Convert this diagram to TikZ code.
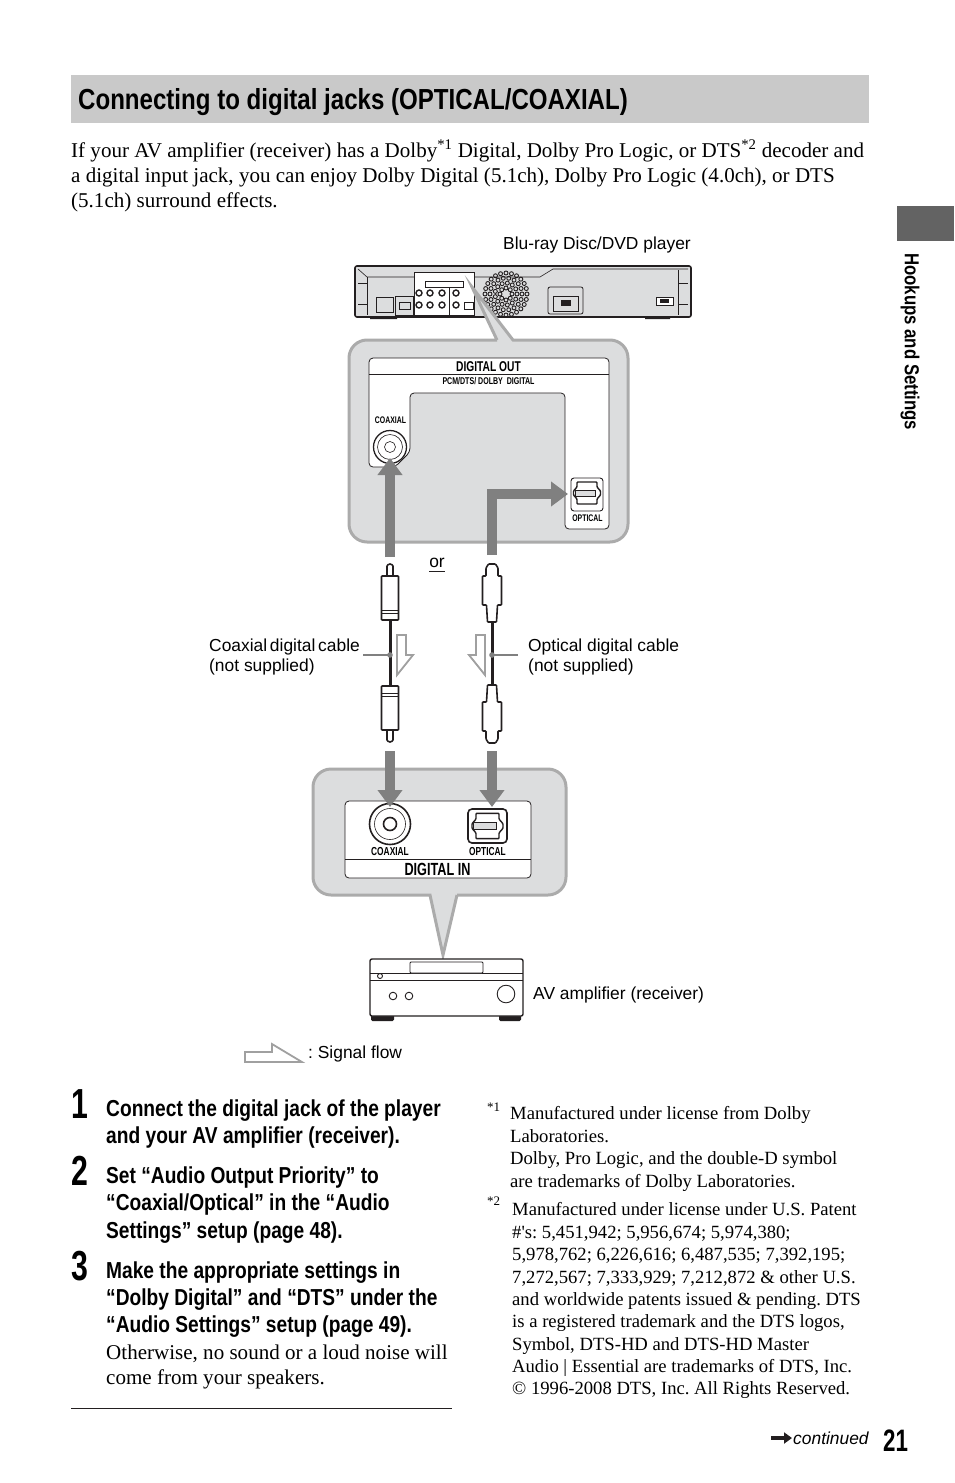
\documentclass[tikz,border=0pt]{standalone}
\usepackage{fontspec}
\setmainfont{Liberation Serif}
\setsansfont{Liberation Sans}
\newfontfamily\notefont{Liberation Serif}
\newfontfamily\condfont[FakeStretch=0.83]{Liberation Sans}
\newfontfamily\numfont[FakeStretch=0.72]{Liberation Sans}
\usetikzlibrary{arrows.meta, positioning, calc}
\definecolor{bandgray}{HTML}{C9C9C9}
\definecolor{tabgray}{HTML}{636363}
\definecolor{calloutfill}{HTML}{DCDDDE}
\definecolor{calloutedge}{HTML}{ABABAB}
\definecolor{flowgray}{HTML}{808080}
\definecolor{inkblack}{HTML}{231F20}
\tikzset{
    bodytext/.style={anchor=base west, inner sep=0pt, font=\fontsize{21.05}{25}\selectfont},
    notetext/.style={anchor=base west, inner sep=0pt, font=\notefont\fontsize{18.65}{22}\selectfont},
    labeltext/.style={anchor=base west, inner sep=0pt, font=\sffamily\fontsize{17.4}{20}\selectfont},
    steptext/.style={anchor=base west, inner sep=0pt, font=\condfont\bfseries\fontsize{23.1}{27}\selectfont},
    stepnum/.style={anchor=base west, inner sep=0pt, font=\numfont\bfseries\fontsize{42}{42}\selectfont},
    jacktext/.style={inner sep=0pt, font=\numfont\bfseries\fontsize{11.6}{12}\selectfont},
    callout/.style={draw=calloutedge, fill=calloutfill, line width=3pt},
    panel/.style={draw=inkblack, fill=white, line width=0.8pt, rounded corners=4pt},
    flow/.style={draw=flowgray, line width=10pt, -{Triangle[length=17pt, width=24pt]}},
    hollowflow/.style={draw=flowgray!75, fill=white, line width=1.8pt, miter limit=10},
    leader/.style={draw=flowgray, line width=1.2pt},
    part/.style={draw=inkblack, line width=1pt},
    plugline/.style={draw=inkblack, line width=1.6pt, fill=white, rounded corners=0.8pt},
    coaxplug/.pic={
        \draw[plugline] (-3,-44) -- (-3,-53) arc (180:360:3) -- (3,-44);
        \draw[plugline] (-8.5,0) rectangle (8.5,-44);
        \draw[part, line width=0.7pt] (-8,-7) -- (8,-7) (-8,-10) -- (8,-10);
    },
    optoplug/.pic={
        \draw[plugline] (-4.5,0) -- (-5.5,-17) -- (-9.5,-17) -- (-9.5,-46) -- (-6,-46) -- (-6,-54) -- (-3.5,-58) -- (3.5,-58) -- (6,-54) -- (6,-46) -- (9.5,-46) -- (9.5,-17) -- (5.5,-17) -- (4.5,0) -- cycle;
    },
    optojack/.pic={
        \draw[plugline, line width=1.4pt] (-10,-11) -- (10,-11) -- (10,-6) -- (13.5,-2) -- (13.5,2) -- (10,6) -- (10,11) -- (-10,11) -- (-10,6) -- (-13.5,2) -- (-13.5,-2) -- (-10,-6) -- cycle;
        \draw[part, fill=calloutfill, line width=1pt] (-12,-3) rectangle (8,3);
    }
}

\begin{document}
\frenchspacing
\begin{tikzpicture}[x=1pt, y=-1pt]
    \useasboundingbox (0,0) rectangle (954,1483);

    % Heading band and side tab
    \fill[bandgray] (71,75) rectangle (869,123);
    \node (Heading) [anchor=base west, inner sep=0pt, font=\condfont\bfseries\fontsize{29}{32}\selectfont] at (78,109) {Connecting to digital jacks (OPTICAL/COAXIAL)};
    \fill[tabgray] (897,206) rectangle (954,241);
    \node (Chapter) [anchor=west, inner sep=0pt, rotate=-90, font=\condfont\bfseries\fontsize{20.2}{21}\selectfont] at (910,253) {Hookups and Settings};

    % Intro text
    \node (IntroA) [bodytext] at (71,157) {If your AV amplifier (receiver) has a Dolby\textsuperscript{*1} Digital, Dolby Pro Logic, or DTS\textsuperscript{*2} decoder and};
    \node (IntroB) [bodytext] at (71,182) {a digital input jack, you can enjoy Dolby Digital (5.1ch), Dolby Pro Logic (4.0ch), or DTS};
    \node (IntroC) [bodytext] at (71,207) {(5.1ch) surround effects.};

    % Player
    \node (PlayerLabel) [labeltext] at (503,249) {Blu-ray Disc/DVD player};
    \fill[inkblack] (370,316) rectangle (397,319) (645,316) rectangle (670,319);
    \draw[part, fill=calloutfill, line width=1.6pt, rounded corners=2pt] (355,266) rectangle (691,317);
    \draw[part, line width=0.6pt] (358,269) -- (367,277) -- (540,277) -- (553,269) -- (678,269) -- (688,269);
    \draw[part, line width=0.6pt] (367,277) -- (367,315) (678,270) -- (678,315);
    \draw[part, line width=0.6pt] (358,283) -- (367,283) (358,304) -- (367,304) (678,283) -- (688,283) (678,304) -- (688,304);
    \draw[part, fill=white, line width=0.6pt] (414,272) rectangle (474,315);
    \draw[part, line width=0.6pt] (425,281) rectangle (463,287) (449,287) -- (449,315);
    \draw[part, line width=0.8pt] (376,297) rectangle (393,312) (395,296) rectangle (413,315) (399,302) rectangle (410,309);
    \foreach \px in {419,430,442,456} {
        \draw[inkblack, line width=1.4pt] (\px,293) circle (3);
        \draw[inkblack, line width=1.4pt] (\px,305) circle (3);
    }
    \draw[part, line width=0.8pt] (464,302) rectangle (473,309);
    \foreach \fanr/\fann in {6/8, 11/13, 16/18, 21/24} {
        \foreach \fani in {1,...,\fann} {
            \draw[inkblack, line width=0.9pt] ($(506,294)+({\fani*360/\fann}:\fanr)$) circle (2);
        }
    }
    \draw[part, line width=0.8pt, rounded corners=2pt] (548,287) rectangle (583,314);
    \draw[part, line width=1pt] (553,296) rectangle (578,311);
    \fill[inkblack] (561,300) rectangle (571,306);
    \draw[part, fill=white, line width=0.8pt] (656,297) rectangle (673,305);
    \fill[inkblack] (660,299) rectangle (669,303);

    % Upper callout
    \draw[callout] (497,340) [sharp corners] -- (472,287) -- (513,340) [rounded corners=18pt] -- (628,340) -- (628,542) -- (349,542) -- (349,340) -- (497,340);
    \draw[panel] (369,467) -- (369,358) -- (609,358) -- (609,529) -- (565,529) -- (565,393) -- (410,393) -- (410,452) -- (395,467) -- cycle;
    \draw[part, line width=0.8pt] (369,374.5) -- (609,374.5);
    \node (DigitalOut) [jacktext, font=\numfont\bfseries\fontsize{14.2}{15}\selectfont] at (488.5,366.5) {DIGITAL OUT};
    \node (PcmLabel) [jacktext, font=\numfont\bfseries\fontsize{9.8}{10}\selectfont] at (488.5,381.5) {PCM/DTS/ DOLBY\ \ DIGITAL};
    \node (CoaxOutLabel) [jacktext, font=\numfont\bfseries\fontsize{9.6}{10}\selectfont] at (390.5,420) {COAXIAL};
    \draw[part, fill=white, line width=1.3pt] (390,447) circle (16.5);
    \draw[part, line width=0.6pt] (390,447) circle (12.5);
    \draw[part, line width=0.6pt] (390,447) circle (5.5);
    \draw[part, rounded corners=3pt, fill=white, line width=0.9pt] (571,478) rectangle (603,511);
    \pic at (587,493) {optojack};
    \node (OptoOutLabel) [jacktext, font=\numfont\bfseries\fontsize{9.6}{10}\selectfont] at (587.5,518) {OPTICAL};

    % Lower callout
    \draw[callout] (457,895) [sharp corners] -- (443,955) -- (430,895) [rounded corners=18pt] -- (313,895) -- (313,769) -- (566,769) -- (566,895) -- (457,895);
    \draw[panel] (345,801) rectangle (531,878);
    \draw[part, line width=0.8pt] (345,859) -- (531,859);
    \draw[part, fill=white, line width=1.6pt] (390,824) circle (20.5);
    \draw[part, line width=0.6pt] (390,824) circle (15.5);
    \draw[part, line width=1.6pt] (390,824) circle (6.5);
    \draw[part, rounded corners=4pt, fill=white, line width=1.6pt] (468,809) rectangle (507,843);
    \pic [scale=1.15] at (487.5,826) {optojack};
    \node (CoaxInLabel) [jacktext] at (390,851.5) {COAXIAL};
    \node (OptoInLabel) [jacktext] at (487.5,851.5) {OPTICAL};
    \node (DigitalIn) [jacktext, font=\numfont\bfseries\fontsize{17.6}{18}\selectfont] at (437.5,869.5) {DIGITAL IN};

    % Signal paths
    \coordinate (CoaxOutStart) at (390,557);
    \coordinate (CoaxOutEnd) at (390,458);
    \coordinate (OptoOutStart) at (492,555);
    \coordinate (OptoOutBend) at (492,494);
    \coordinate (OptoOutEnd) at (568,494);
    \coordinate (CoaxInStart) at (390,751);
    \coordinate (CoaxInEnd) at (390,807);
    \coordinate (OptoInStart) at (492,751);
    \coordinate (OptoInEnd) at (492,807);
    \draw[flow] (CoaxOutStart) -- (CoaxOutEnd);
    \draw[flow] (OptoOutStart) -- (OptoOutBend) -- (OptoOutEnd);
    \draw[flow] (CoaxInStart) -- (CoaxInEnd);
    \draw[flow] (OptoInStart) -- (OptoInEnd);

    % Cables
    \coordinate (CoaxTop) at (390,620);
    \coordinate (CoaxBottom) at (390,686);
    \coordinate (OptoTop) at (492,622);
    \coordinate (OptoBottom) at (492,685);
    \draw[inkblack, line width=3pt] (CoaxTop) -- (CoaxBottom);
    \draw[inkblack, line width=3pt] (OptoTop) -- (OptoBottom);
    \pic at (CoaxTop) {coaxplug};
    \pic [yscale=-1] at (CoaxBottom) {coaxplug};
    \pic at (OptoTop) {optoplug};
    \pic [yscale=-1] at (OptoBottom) {optoplug};
    \draw[hollowflow] (397,635) -- (406,635) -- (406,655) -- (413,655) -- (397,675) -- cycle;
    \draw[hollowflow] (485,635) -- (476,635) -- (476,655) -- (469,655) -- (485,675) -- cycle;

    % Cable labels
    \node (OrLabel) [labeltext, anchor=base] at (437,567) {or};
    \draw[inkblack, line width=0.8pt] (429,571) -- (445,571);
    \node (CoaxLabel) [labeltext] at (209,651) {Coaxial\kern2.8pt digital\kern2.8pt cable};
    \node (CoaxNote) [labeltext] at (209,671) {(not supplied)};
    \node (OptoLabel) [labeltext] at (528,651) {Optical digital cable};
    \node (OptoNote) [labeltext] at (528,671) {(not supplied)};
    \coordinate (CoaxLeaderEnd) at (363,655);
    \coordinate (OptoLeaderEnd) at (518,655);
    \coordinate (CoaxDot) at (390,655);
    \coordinate (OptoDot) at (492,655);
    \draw[leader] (CoaxLeaderEnd) -- (CoaxDot);
    \draw[leader] (OptoLeaderEnd) -- (OptoDot);
    \fill[flowgray] (CoaxDot) circle (2.8) (OptoDot) circle (2.8);

    % Amplifier
    \fill[inkblack, rounded corners=1.5pt] (371,1014) rectangle (394,1021) (499,1014) rectangle (521,1021);
    \draw[part, fill=white, line width=1.4pt, rounded corners=2pt] (370,959) rectangle (523,1016);
    \draw[part, line width=0.8pt] (370,973) -- (523,973) (370,980) -- (523,980);
    \draw[part, fill=white, rounded corners=1pt, line width=0.9pt] (410,962) rectangle (483,973);
    \draw[part, line width=0.9pt] (380,976) circle (2.5) (393,996) circle (3.8) (409,996) circle (3.8) (506,994) circle (8.8);
    \node (AmpLabel) [labeltext] at (533,999) {AV amplifier (receiver)};

    % Legend
    \draw[hollowflow] (245,1052) -- (272,1052) -- (272,1044) -- (302,1062) -- (245,1062) -- cycle;
    \node (LegendLabel) [labeltext] at (308,1058) {: Signal flow};

    % Steps
    \node (NumOne) [stepnum] at (71,1118) {1};
    \node (StepOneA) [steptext] at (106,1116) {Connect the digital jack of the player};
    \node (StepOneB) [steptext] at (106,1143) {and your AV amplifier (receiver).};
    \node (NumTwo) [stepnum] at (71,1185) {2};
    \node (StepTwoA) [steptext] at (106,1183) {Set “Audio Output Priority” to};
    \node (StepTwoB) [steptext] at (106,1210) {“Coaxial/Optical” in the “Audio};
    \node (StepTwoC) [steptext] at (106,1238) {Settings” setup (page 48).};
    \node (NumThree) [stepnum] at (71,1280) {3};
    \node (StepThreeA) [steptext] at (106,1278) {Make the appropriate settings in};
    \node (StepThreeB) [steptext] at (106,1305) {“Dolby Digital” and “DTS” under the};
    \node (StepThreeC) [steptext] at (106,1332) {“Audio Settings” setup (page 49).};
    \node (StepThreeD) [bodytext] at (106,1359) {Otherwise, no sound or a loud noise will};
    \node (StepThreeE) [bodytext] at (106,1384) {come from your speakers.};
    \coordinate (RuleStart) at (71,1408);
    \coordinate (RuleEnd) at (452,1408);
    \draw[inkblack, line width=0.9pt] (RuleStart) -- (RuleEnd);

    % Footnotes
    \node (MarkOne) [notetext, font=\notefont\fontsize{13}{14}\selectfont] at (487,1111) {*1};
    \node (NoteOneA) [notetext] at (510,1119) {Manufactured under license from Dolby};
    \node (NoteOneB) [notetext] at (510,1142) {Laboratories.};
    \node (NoteOneC) [notetext] at (510,1164) {Dolby, Pro Logic, and the double-D symbol};
    \node (NoteOneD) [notetext] at (510,1187) {are trademarks of Dolby Laboratories.};
    \node (MarkTwo) [notetext, font=\notefont\fontsize{13}{14}\selectfont] at (487,1205) {*2};
    \node (NoteTwoA) [notetext] at (512,1215) {Manufactured under license under U.S. Patent};
    \node (NoteTwoB) [notetext] at (512,1238) {\#'s: 5,451,942; 5,956,674; 5,974,380;};
    \node (NoteTwoC) [notetext] at (512,1260) {5,978,762; 6,226,616; 6,487,535; 7,392,195;};
    \node (NoteTwoD) [notetext] at (512,1283) {7,272,567; 7,333,929; 7,212,872 \& other U.S.};
    \node (NoteTwoE) [notetext] at (512,1305) {and worldwide patents issued \& pending. DTS};
    \node (NoteTwoF) [notetext] at (512,1327) {is a registered trademark and the DTS logos,};
    \node (NoteTwoG) [notetext] at (512,1350) {Symbol, DTS-HD and DTS-HD Master};
    \node (NoteTwoH) [notetext] at (512,1372) {Audio | Essential are trademarks of DTS, Inc.};
    \node (NoteTwoI) [notetext] at (512,1394) {© 1996-2008 DTS, Inc. All Rights Reserved.};

    % Page foot
    \coordinate (ContStart) at (771,1438);
    \coordinate (ContEnd) at (792,1438);
    \draw[inkblack, line width=4pt, -{Triangle[length=8pt, width=11pt]}] (ContStart) -- (ContEnd);
    \node (Continued) [labeltext, font=\sffamily\itshape\fontsize{17.4}{20}\selectfont] at (793,1444) {continued};
    \node (PageNum) [anchor=base west, inner sep=0pt, font=\numfont\bfseries\fontsize{31}{32}\selectfont] at (883,1451) {21};
\end{tikzpicture}
\end{document}
